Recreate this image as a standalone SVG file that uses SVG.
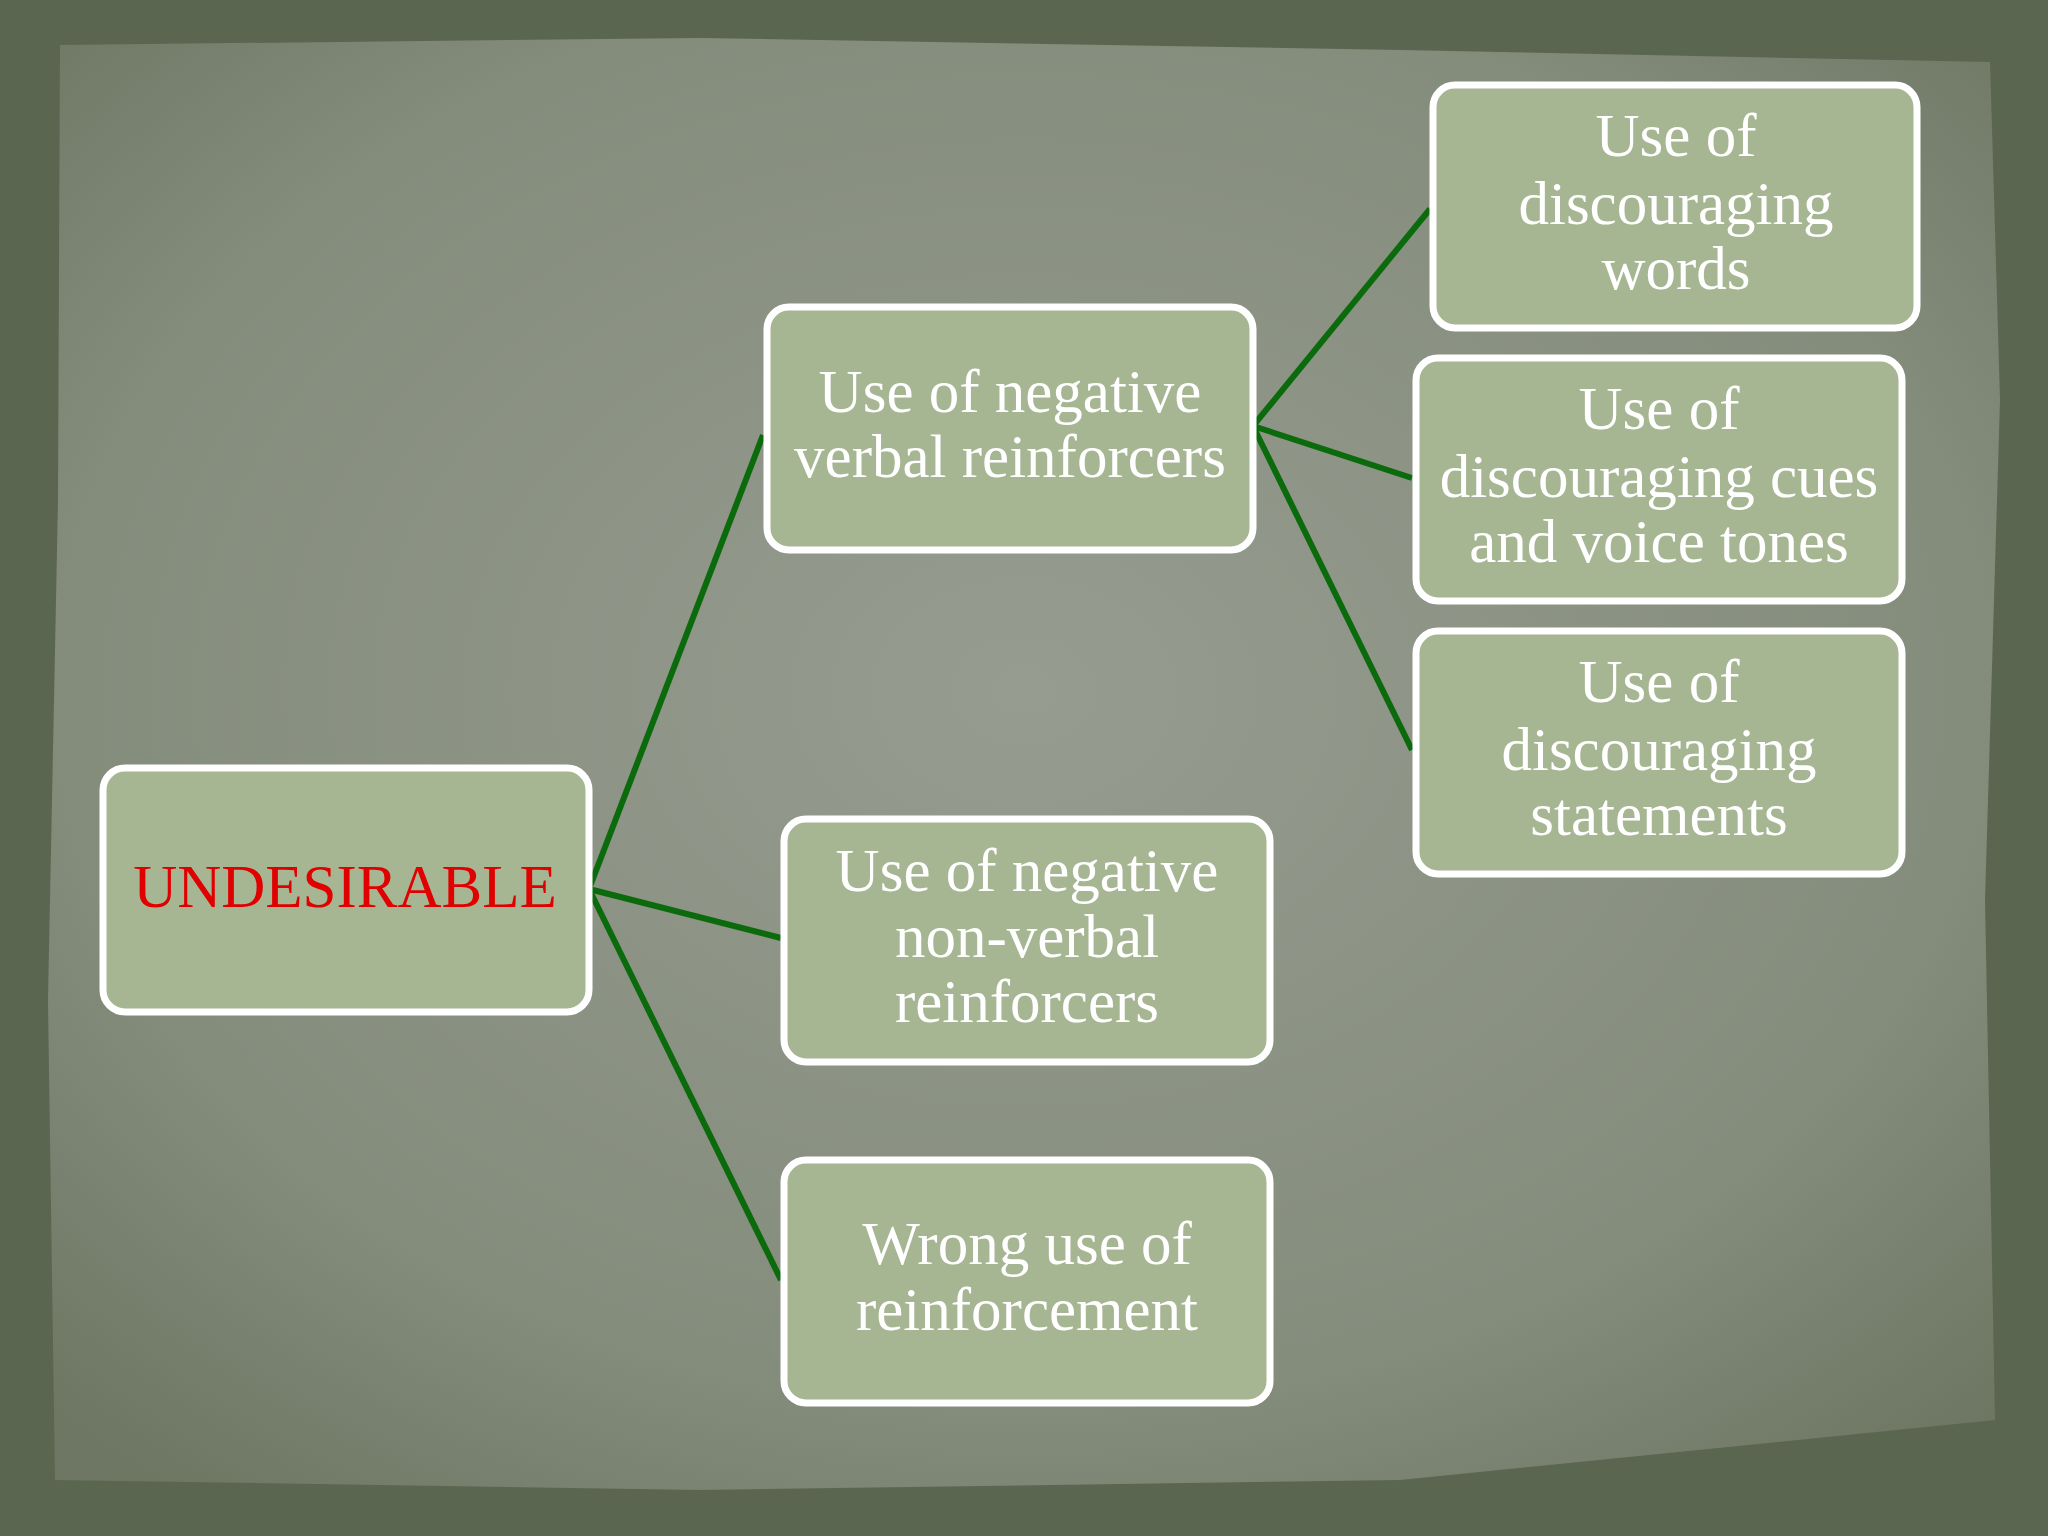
<svg xmlns="http://www.w3.org/2000/svg" width="2048" height="1536" viewBox="0 0 2048 1536">
<defs>
<radialGradient id="bg" cx="50%" cy="45%" r="70%">
<stop offset="0" stop-color="#969c90"/><stop offset="0.7" stop-color="#848c7c"/><stop offset="1" stop-color="#6d7763"/>
</radialGradient>
<style>
.box{fill:#a6b592;stroke:#ffffff;stroke-width:7}
.t{font-family:"Liberation Serif",serif;font-size:61px;fill:#ffffff;text-anchor:middle}
.c{stroke:#0b6a0b;stroke-width:6;fill:none}
</style>
</defs>
<rect width="2048" height="1536" fill="#5b6650"/>
<path d="M60 45 L700 38 L1400 50 L1990 62 L2000 400 L1985 900 L1995 1420 L1400 1480 L700 1490 L55 1480 L48 1000 L58 500 Z" fill="url(#bg)"/>
<g id="connectors">
<line class="c" x1="589" y1="889" x2="763" y2="435"/>
<line class="c" x1="589" y1="889" x2="781" y2="938"/>
<line class="c" x1="589" y1="889" x2="781" y2="1280"/>
<line class="c" x1="1253" y1="426" x2="1430" y2="209"/>
<line class="c" x1="1253" y1="426" x2="1412" y2="478"/>
<line class="c" x1="1253" y1="426" x2="1412" y2="750"/>
</g>
<g id="undesirable"><rect class="box" x="103" y="768" width="486" height="244" rx="22"/><text class="t" x="345" y="907" style="fill:#e00000">UNDESIRABLE</text></g>
<g id="verbal"><rect class="box" x="767" y="307" width="486" height="243" rx="22"/><text class="t" x="1010" y="412">Use of negative</text><text class="t" x="1010" y="477">verbal reinforcers</text></g>
<g id="nonverbal"><rect class="box" x="784" y="819" width="486" height="243" rx="22"/><text class="t" x="1027" y="891">Use of negative</text><text class="t" x="1027" y="957">non-verbal</text><text class="t" x="1027" y="1022">reinforcers</text></g>
<g id="wrong"><rect class="box" x="784" y="1160" width="486" height="243" rx="22"/><text class="t" x="1027" y="1264">Wrong use of</text><text class="t" x="1027" y="1330">reinforcement</text></g>
<g id="words"><rect class="box" x="1433" y="85" width="484" height="243" rx="22"/><text class="t" x="1676" y="156">Use of</text><text class="t" x="1676" y="224">discouraging</text><text class="t" x="1676" y="289">words</text></g>
<g id="cues"><rect class="box" x="1416" y="358" width="486" height="243" rx="22"/><text class="t" x="1659" y="429">Use of</text><text class="t" x="1659" y="497">discouraging cues</text><text class="t" x="1659" y="562">and voice tones</text></g>
<g id="statements"><rect class="box" x="1416" y="631" width="486" height="243" rx="22"/><text class="t" x="1659" y="702">Use of</text><text class="t" x="1659" y="770">discouraging</text><text class="t" x="1659" y="835">statements</text></g>
</svg>
